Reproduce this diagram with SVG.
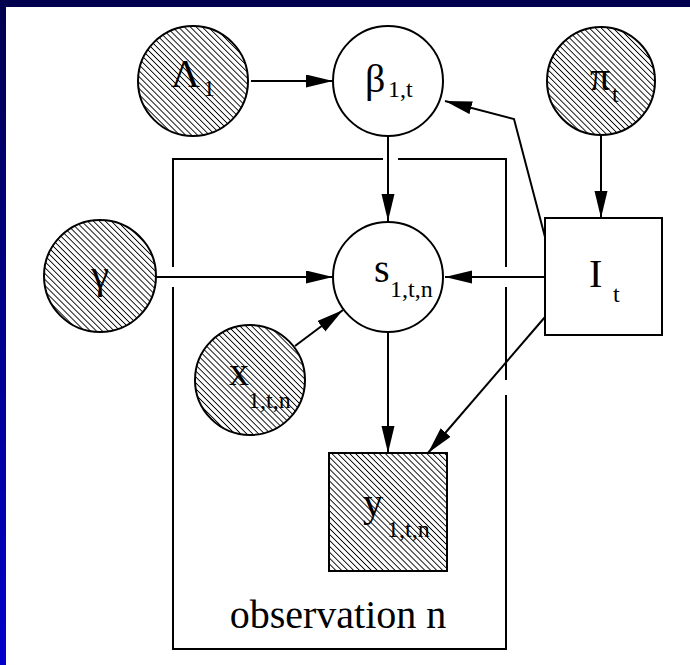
<svg xmlns="http://www.w3.org/2000/svg" width="690" height="665" viewBox="0 0 690 665">
  <defs>
    <linearGradient id="lband" x1="0" y1="0" x2="0" y2="1">
      <stop offset="0" stop-color="#00004f"/>
      <stop offset="1" stop-color="#0000cc"/>
    </linearGradient>
    <pattern id="hatch" patternUnits="userSpaceOnUse" width="4.2" height="10" patternTransform="rotate(-45)">
      <line x1="2.1" y1="0" x2="2.1" y2="10" stroke="#000" stroke-width="0.9"/>
    </pattern>
    <marker id="arr" markerUnits="userSpaceOnUse" markerWidth="28" markerHeight="14" refX="27" refY="6.5" orient="auto">
      <path d="M0,0 L27,6.5 L0,13 z" fill="#000"/>
    </marker>
    <style>
      .node { stroke: #000; stroke-width: 2; }
      .obs { fill: url(#hatch); }
      .lat { fill: #fff; }
      .edge { fill: none; stroke: #000; stroke-width: 2; marker-end: url(#arr); }
      .plate { fill: none; stroke: #000; stroke-width: 2; }
      .lbl { font-family: "Liberation Serif", "Times New Roman", serif; font-size: 40px; fill: #000; }
      .sub { font-family: "Liberation Serif", "Times New Roman", serif; font-size: 24px; fill: #000; }
    </style>
  </defs>

  <rect x="0" y="0" width="690" height="665" fill="#fff"/>
  <rect x="0" y="0" width="690" height="7" fill="#00004f"/>
  <rect x="0" y="0" width="6" height="665" fill="url(#lband)"/>

  <g id="plate">
    <path class="plate" d="M173,159 H383 M398,159 H506 M173,158 V267 M173,287 V650 M172,649 H507 M506,158 V267 M506,287 V380 M506,395 V650"/>
    <text class="lbl" x="338" y="628" text-anchor="middle" font-size="39">observation n</text>
  </g>

  <g id="connectors">
    <line class="edge" x1="251" y1="81" x2="333" y2="81"/>
    <line class="edge" x1="388" y1="137" x2="388" y2="221"/>
    <line class="edge" x1="601" y1="136" x2="601" y2="218"/>
    <polyline class="edge" points="545,237 514,119 445,101"/>
    <line class="edge" x1="156" y1="277" x2="333" y2="277"/>
    <line class="edge" x1="545" y1="277" x2="445" y2="277"/>
    <line class="edge" x1="295" y1="346" x2="343" y2="310"/>
    <line class="edge" x1="388" y1="333" x2="388" y2="453"/>
    <line class="edge" x1="545" y1="317" x2="428" y2="453"/>
  </g>

  <g id="Lambda">
    <circle class="node obs" cx="193" cy="81" r="55"/>
    <text class="lbl" x="171" y="87">Λ</text>
    <text class="sub" x="203" y="96">1</text>
  </g>

  <g id="beta">
    <circle class="node lat" cx="388" cy="81" r="55"/>
    <text class="lbl" x="365" y="92" font-size="44">β</text>
    <text class="sub" x="388" y="97">1,t</text>
  </g>

  <g id="pi">
    <circle class="node obs" cx="601" cy="81" r="54"/>
    <text class="lbl" x="590" y="90" font-size="42">π</text>
    <text class="sub" x="612" y="102">t</text>
  </g>

  <g id="gamma">
    <circle class="node obs" cx="100" cy="276" r="56"/>
    <text class="lbl" x="100" y="288" text-anchor="middle" font-size="46">γ</text>
  </g>

  <g id="s">
    <circle class="node lat" cx="388" cy="277" r="55"/>
    <text class="lbl" x="374" y="282" font-size="43">s</text>
    <text class="sub" x="390" y="297">1,t,n</text>
  </g>

  <g id="I">
    <rect class="node lat" x="545" y="218" width="117" height="117"/>
    <text class="lbl" x="589" y="287" font-size="37">I</text>
    <text class="sub" x="613" y="302">t</text>
  </g>

  <g id="x">
    <circle class="node obs" cx="250" cy="380" r="55"/>
    <text class="lbl" x="229" y="385">x</text>
    <text class="sub" x="248" y="408">1,t,n</text>
  </g>

  <g id="y">
    <rect class="node obs" x="329" y="453" width="118" height="118"/>
    <text class="lbl" x="363" y="516" font-size="42">y</text>
    <text class="sub" x="387" y="537">1,t,n</text>
  </g>
</svg>
